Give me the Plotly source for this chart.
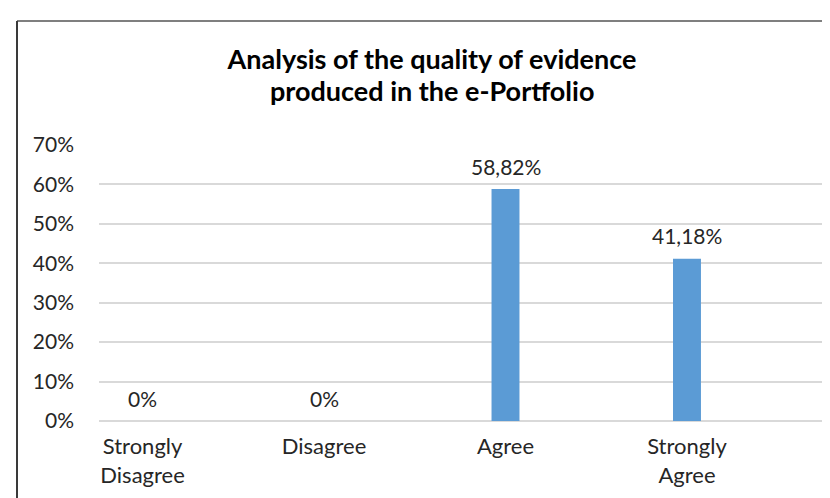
import plotly.graph_objects as go

title_lines = ["Analysis of the quality of evidence", "produced in the e-Portfolio"]
categories = ["Strongly Disagree", "Disagree", "Agree", "Strongly Agree"]
tick_labels = ["Strongly<br>Disagree", "Disagree", "Agree", "Strongly<br>Agree"]
values = [0, 0, 58.82, 41.18]
y_ticks = [0, 10, 20, 30, 40, 50, 60, 70]
y_tick_labels = [f"{v}%" for v in y_ticks]

def fmt(v):
    return "0%" if v == 0 else f"{v:.2f}%".replace(".", ",")

FONT = "Lato, 'Open Sans', sans-serif"
TXT = "#262626"

# plot-area pixel geometry
L, R, T, B = 91, 814, 137, 413
PW, PH = R - L, B - T

def px_x(p):
    return (p - L) / PW

def px_y(p):
    return (B - p) / PH

fig = go.Figure()
fig.add_trace(go.Bar(
    x=categories, y=values, width=0.154,
    marker=dict(color="#5B9BD5", line=dict(width=0)),
    hoverinfo="skip",
))

for c, v in zip(categories, values):
    fig.add_annotation(x=c, y=v, text=fmt(v), showarrow=False,
                       yanchor="middle", yshift=23,
                       font=dict(family=FONT, size=21, color=TXT))

# second title line
fig.add_annotation(xref="paper", yref="paper", x=px_x(424), y=px_y(82),
                   xanchor="center", yanchor="middle", showarrow=False,
                   text=f"<b>{title_lines[1]}</b>",
                   font=dict(family=FONT, size=27, color="#000000"))

# outer chart border (top and left visible)
fig.add_shape(type="line", xref="paper", yref="paper",
              x0=px_x(9), x1=px_x(835), y0=px_y(13), y1=px_y(13),
              line=dict(color="#7f7f7f", width=2))
fig.add_shape(type="line", xref="paper", yref="paper",
              x0=px_x(9), x1=px_x(9), y0=px_y(13), y1=px_y(505),
              line=dict(color="#3a3a3a", width=2))

fig.update_layout(
    width=830, height=498,
    margin=dict(l=L, r=830 - R, t=T, b=498 - B),
    paper_bgcolor="white", plot_bgcolor="white",
    showlegend=False,
    title=dict(
        text=f"<b>{title_lines[0]}</b>",
        x=424 / 830, xanchor="center", xref="container",
        y=1 - 52 / 498, yanchor="middle", yref="container",
        font=dict(family=FONT, size=27, color="#000000"),
    ),
    xaxis=dict(
        tickmode="array", tickvals=categories, ticktext=tick_labels,
        range=[-0.24, 3.744], showgrid=False, showline=False, zeroline=False,
        ticks="", ticklabelstandoff=10,
        tickfont=dict(family=FONT, size=22, color=TXT),
    ),
    yaxis=dict(
        range=[0, 70], tickmode="array", tickvals=y_ticks, ticktext=y_tick_labels,
        showgrid=True, gridcolor="#d9d9d9", gridwidth=1.5,
        zeroline=True, zerolinecolor="#d9d9d9", zerolinewidth=1.5,
        showline=False, ticks="", ticklabelstandoff=24,
        tickfont=dict(family=FONT, size=21, color=TXT),
    ),
)

fig.write_html("out.html")
